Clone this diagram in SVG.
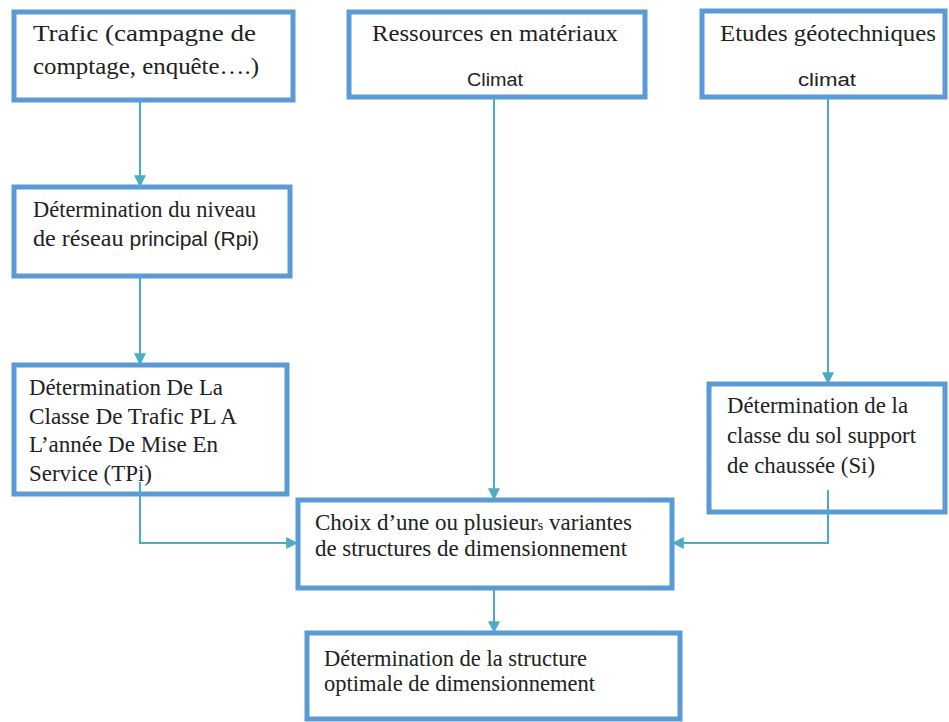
<svg xmlns="http://www.w3.org/2000/svg" width="949" height="722" viewBox="0 0 949 722">
<style>
.box{fill:#fff;stroke:#5b9bd5;stroke-width:5}
.t{font-family:"Liberation Serif","Times New Roman",serif;font-size:23px;fill:#222}
.s{font-family:"Liberation Sans",Arial,sans-serif;font-size:18px;fill:#222}
.c{fill:none;stroke:#4bacc6;stroke-width:2}
</style>
<defs>
<marker id="ah" viewBox="0 0 10 10" refX="9" refY="5" markerWidth="12" markerHeight="12" markerUnits="userSpaceOnUse" orient="auto">
<path d="M0,0 L10,5 L0,10 z" fill="#4bacc6"/>
</marker>
</defs>
<rect width="949" height="722" fill="#fff"/>
<g id="n1"><rect class="box" x="14" y="12" width="279" height="88"/>
<text class="t" x="33" y="41" style="font-size:24px" textLength="223" lengthAdjust="spacingAndGlyphs">Trafic (campagne de</text>
<text class="t" x="33" y="74" style="font-size:24px" textLength="226" lengthAdjust="spacingAndGlyphs">comptage, enquête….)</text></g>
<g id="n2"><rect class="box" x="349" y="12" width="296" height="85"/>
<text class="t" x="372" y="41" style="font-size:24px" textLength="246" lengthAdjust="spacingAndGlyphs">Ressources en matériaux</text>
<text class="s" x="467" y="86" textLength="56" lengthAdjust="spacingAndGlyphs">Climat</text></g>
<g id="n3"><rect class="box" x="702" y="11" width="243" height="86"/>
<text class="t" x="720" y="41" style="font-size:24px" textLength="216" lengthAdjust="spacingAndGlyphs">Etudes géotechniques</text>
<text class="s" x="798" y="86" textLength="58" lengthAdjust="spacingAndGlyphs">climat</text></g>
<g id="n4"><rect class="box" x="14" y="187" width="276" height="89"/>
<text class="t" x="33" y="217" textLength="223" lengthAdjust="spacingAndGlyphs">Détermination du niveau</text>
<text class="t" x="33" y="246" textLength="226" lengthAdjust="spacingAndGlyphs">de réseau <tspan class="s" style="font-size:20px">principal (Rpi)</tspan></text></g>
<g id="n5"><rect class="box" x="14" y="365" width="273" height="129"/>
<text class="t" x="29" y="395" textLength="194" lengthAdjust="spacingAndGlyphs">Détermination De La</text>
<text class="t" x="29" y="424" textLength="208" lengthAdjust="spacingAndGlyphs">Classe De Trafic PL A</text>
<text class="t" x="29" y="452" textLength="189" lengthAdjust="spacingAndGlyphs">L’année De Mise En</text>
<text class="t" x="29" y="481" textLength="123" lengthAdjust="spacingAndGlyphs">Service (TPi)</text></g>
<g id="n6"><rect class="box" x="709" y="384" width="236" height="128"/>
<text class="t" x="727" y="413" textLength="181" lengthAdjust="spacingAndGlyphs">Détermination de la</text>
<text class="t" x="727" y="443" textLength="189" lengthAdjust="spacingAndGlyphs">classe du sol support</text>
<text class="t" x="727" y="473" textLength="148" lengthAdjust="spacingAndGlyphs">de chaussée (Si)</text></g>
<g id="n7"><rect class="box" x="298" y="500" width="374" height="88"/>
<text class="t" x="315" y="530" textLength="317" lengthAdjust="spacingAndGlyphs">Choix d’une ou plusieur<tspan style="font-size:14px">s</tspan> variantes</text>
<text class="t" x="315" y="556" textLength="312" lengthAdjust="spacingAndGlyphs">de structures de dimensionnement</text></g>
<g id="n8"><rect class="box" x="307" y="633" width="373" height="86"/>
<text class="t" x="324" y="666" textLength="263" lengthAdjust="spacingAndGlyphs">Détermination de la structure</text>
<text class="t" x="324" y="691" textLength="271" lengthAdjust="spacingAndGlyphs">optimale de dimensionnement</text></g>
<g id="connectors">
<path class="c" d="M140,100 V186" marker-end="url(#ah)"/>
<path class="c" d="M140,276 V364" marker-end="url(#ah)"/>
<path class="c" d="M494,97 V499" marker-end="url(#ah)"/>
<path class="c" d="M828,97 V383" marker-end="url(#ah)"/>
<path class="c" d="M140,482 V543 H297" marker-end="url(#ah)"/>
<path class="c" d="M828,490 V543 H673" marker-end="url(#ah)"/>
<path class="c" d="M494,588 V632" marker-end="url(#ah)"/>
</g>
</svg>
